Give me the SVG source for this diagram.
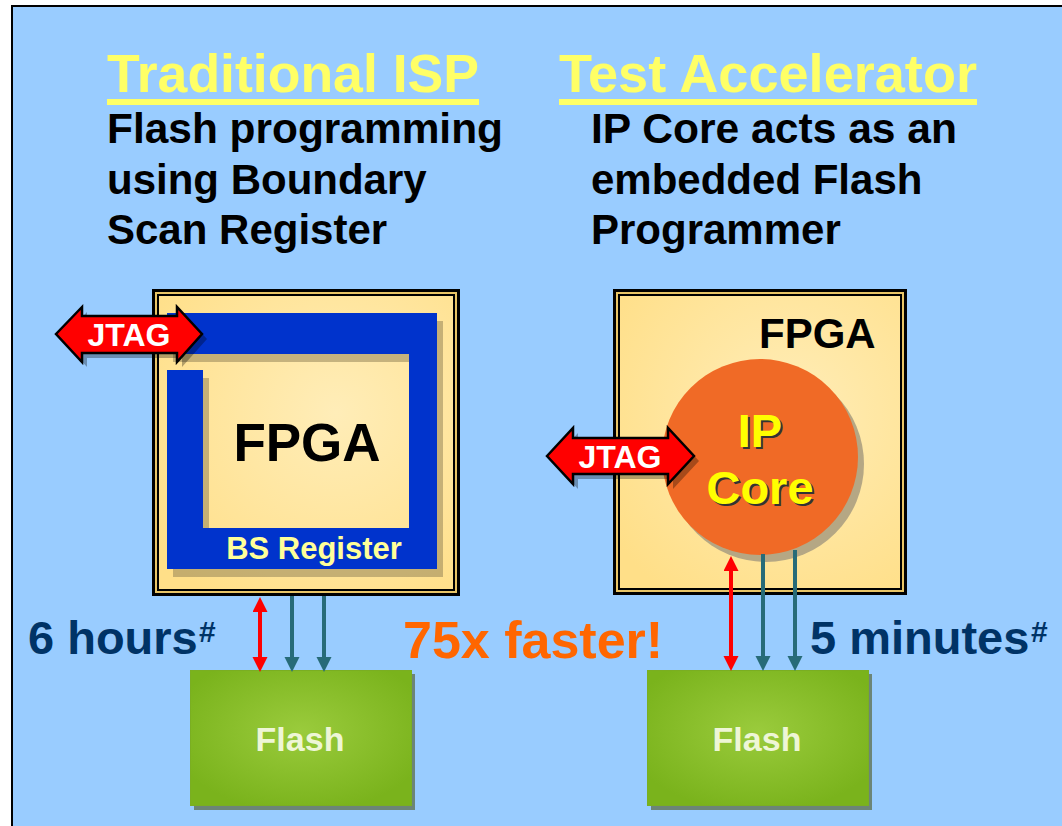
<svg xmlns="http://www.w3.org/2000/svg" width="1062" height="826" viewBox="0 0 1062 826">
<defs>
<style>
.t{font-family:"Liberation Sans",Arial,sans-serif;font-weight:bold}
.title{font-size:53px;fill:#FFFF66}
.body{font-size:42px;fill:#000}
.jt{font-size:32px;fill:#fff}
.time{font-size:47px;fill:#003366}
.sup{font-size:30px;fill:#003366}
.flash{font-size:34px;fill:#EEF6D6}
.frameOut{fill:#E8C466;stroke:#000;stroke-width:3}
.frameIn{fill:url(#fpgaFill);stroke:#000;stroke-width:2}
.jtag{fill:#FF0000;stroke:#000;stroke-width:2.5;stroke-linejoin:miter}
.jshadow{fill:#000;opacity:0.3}
.bs{fill:#0033CC}
.bsShadow{fill:#8C7B52;opacity:0.5}
.red{stroke:#FF0000;stroke-width:4;fill:none}
.teal{stroke:#276B78;stroke-width:4;fill:none}
.flashBox{fill:url(#greenFill);stroke:#7AAE22;stroke-width:1}
.flashShadow{fill:#5E6E4A;opacity:0.75}
</style>
<radialGradient id="fpgaFill" cx="0.6" cy="0.4" r="0.75">
<stop offset="0" stop-color="#FFEDB8"/>
<stop offset="1" stop-color="#FFDF88"/>
</radialGradient>
<radialGradient id="greenFill" cx="0.5" cy="0.45" r="0.6">
<stop offset="0" stop-color="#9ACB3C"/>
<stop offset="1" stop-color="#7AB31C"/>
</radialGradient>
<marker id="arRed" markerUnits="userSpaceOnUse" markerWidth="16" markerHeight="16" refX="11" refY="7.5" orient="auto-start-reverse">
<path d="M0,0 L15,7.5 L0,15 Z" fill="#FF0000"/>
</marker>
<marker id="arTeal" markerUnits="userSpaceOnUse" markerWidth="16" markerHeight="16" refX="11" refY="7.5" orient="auto-start-reverse">
<path d="M0,0 L15,7.5 L0,15 Z" fill="#276B78"/>
</marker>
</defs>

<rect x="0" y="0" width="1062" height="826" fill="#fff"/>
<rect id="panel" x="12" y="6" width="1060" height="830" fill="#99CCFF" stroke="#000" stroke-width="2"/>

<g id="title-left">
<text class="t title" x="107" y="92" textLength="372" lengthAdjust="spacingAndGlyphs">Traditional ISP</text>
<rect x="107" y="99" width="372" height="6" fill="#FFFF66"/>
</g>
<g id="desc-left">
<text class="t body" x="107" y="143" textLength="396" lengthAdjust="spacingAndGlyphs">Flash programming</text>
<text class="t body" x="107" y="194">using Boundary</text>
<text class="t body" x="107" y="244">Scan Register</text>
</g>
<g id="title-right">
<text class="t title" x="559" y="92" textLength="418" lengthAdjust="spacingAndGlyphs">Test Accelerator</text>
<rect x="559" y="99" width="418" height="6" fill="#FFFF66"/>
</g>
<g id="desc-right">
<text class="t body" x="591" y="143" textLength="366" lengthAdjust="spacingAndGlyphs">IP Core acts as an</text>
<text class="t body" x="591" y="194">embedded Flash</text>
<text class="t body" x="591" y="244">Programmer</text>
</g>

<g id="fpga-left">
<rect class="frameOut" x="153.5" y="290.5" width="305" height="304"/>
<rect class="frameIn" x="158" y="295" width="296" height="295"/>
<path class="bsShadow" d="M173,321 H443 V577 H173 V378 H209 V536 H415 V362 H173 Z"/>
<path class="bs" d="M167,313 H437 V569 H167 V370 H203 V528 H409 V354 H167 Z"/>
<text class="t" x="307" y="461" font-size="53" text-anchor="middle" fill="#000">FPGA</text>
<text class="t" x="314" y="559" font-size="31" text-anchor="middle" fill="#FFFF99">BS Register</text>
</g>

<g id="jtag-left">
<path class="jshadow" d="M61,339 L87,312 L87,321 L182,321 L182,312 L207,339 L182,367 L182,358 L87,358 L87,367 Z"/>
<path class="jtag" d="M56,334 L82,307 L82,316 L177,316 L177,307 L202,334 L177,362 L177,353 L82,353 L82,362 Z"/>
<text class="t jt" x="129" y="346" text-anchor="middle">JTAG</text>
</g>

<g id="fpga-right">
<rect class="frameOut" x="614.5" y="290.5" width="291" height="303"/>
<rect class="frameIn" x="619" y="295" width="282" height="294"/>
<text class="t" x="759" y="348" font-size="42" fill="#000">FPGA</text>
</g>

<g id="ipcore">
<circle cx="766" cy="464" r="98" fill="#B5A784"/>
<circle cx="760" cy="457" r="98" fill="#F06A26"/>
<text class="t" x="762" y="449" font-size="47" text-anchor="middle" fill="#333">IP</text>
<text class="t" x="760" y="447" font-size="47" text-anchor="middle" fill="#FFFF00">IP</text>
<text class="t" x="762" y="506" font-size="47" text-anchor="middle" fill="#333">Core</text>
<text class="t" x="760" y="504" font-size="47" text-anchor="middle" fill="#FFFF00">Core</text>
</g>

<g id="jtag-right">
<path class="jshadow" d="M552,461 L578,433 L578,443 L673,443 L673,433 L699,461 L673,489 L673,479 L578,479 L578,489 Z"/>
<path class="jtag" d="M547,456 L573,428 L573,438 L668,438 L668,428 L694,456 L668,484 L668,474 L573,474 L573,484 Z"/>
<text class="t jt" x="620" y="468" text-anchor="middle">JTAG</text>
</g>

<g id="flash-left">
<rect class="flashShadow" x="194" y="674" width="221" height="136"/>
<rect class="flashBox" x="190.5" y="670.5" width="221" height="135"/>
<text class="t flash" x="300" y="751" text-anchor="middle">Flash</text>
</g>
<g id="flash-right">
<rect class="flashShadow" x="651" y="674" width="221" height="136"/>
<rect class="flashBox" x="647.5" y="670.5" width="221" height="135"/>
<text class="t flash" x="757" y="751" text-anchor="middle">Flash</text>
</g>

<g id="connectors">
<line class="red" x1="260" y1="601" x2="260" y2="668" marker-start="url(#arRed)" marker-end="url(#arRed)"/>
<line class="teal" x1="292" y1="596" x2="292" y2="668" marker-end="url(#arTeal)"/>
<line class="teal" x1="324" y1="596" x2="324" y2="668" marker-end="url(#arTeal)"/>
<line class="red" x1="731" y1="560" x2="731" y2="667" marker-start="url(#arRed)" marker-end="url(#arRed)"/>
<line class="teal" x1="763" y1="554" x2="763" y2="667" marker-end="url(#arTeal)"/>
<line class="teal" x1="795" y1="550" x2="795" y2="667" marker-end="url(#arTeal)"/>
</g>

<g id="labels">
<text class="t time" x="28" y="654">6 hours</text>
<text class="t sup" x="199" y="642">#</text>
<text class="t" x="403" y="658" font-size="52" fill="#FF6600">75x faster!</text>
<text class="t time" x="810" y="654">5 minutes</text>
<text class="t sup" x="1031" y="642">#</text>
</g>
</svg>
